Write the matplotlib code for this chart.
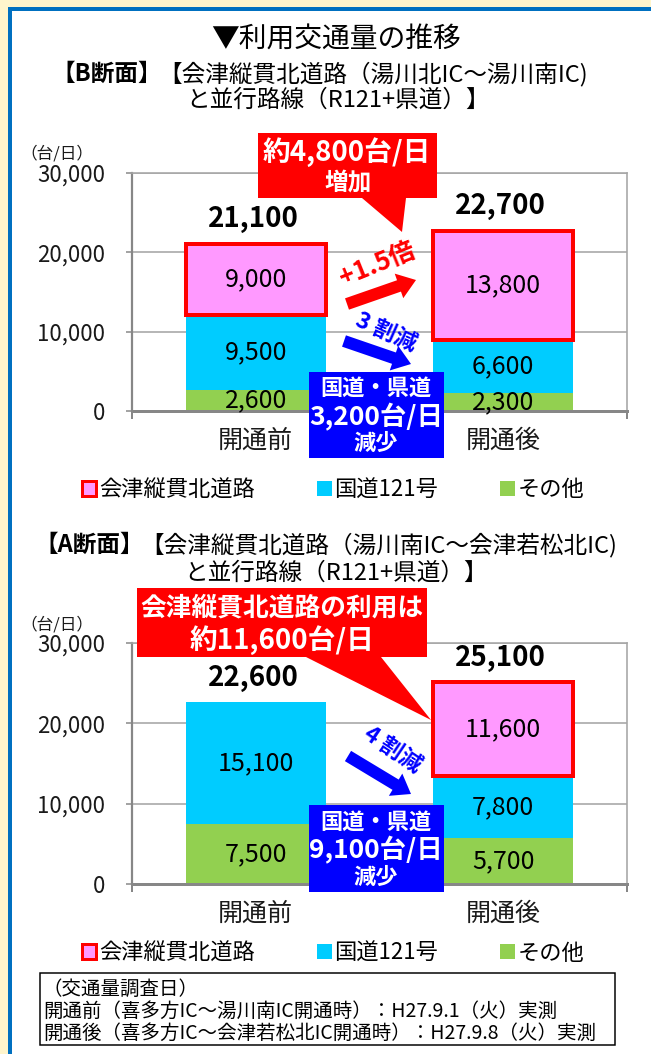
import matplotlib
matplotlib.use('Agg')
import matplotlib.pyplot as plt
from matplotlib.patches import Rectangle, Polygon, FancyArrow, Patch
from matplotlib.transforms import Affine2D
from matplotlib.ticker import FuncFormatter

plt.rcParams['font.family'] = ['Noto Sans CJK JP', 'DejaVu Sans']

# ---------------- data ----------------
categories = ['開通前', '開通後']
series_names = ['その他', '国道121号', '会津縦貫北道路']   # bottom -> top
b_other = [2600, 2300]
b_route121 = [9500, 6600]
b_bypass = [9000, 13800]
a_other = [7500, 5700]
a_route121 = [15100, 7800]
a_bypass = [0, 11600]
y_ticks = [0, 10000, 20000, 30000]

# ---------------- style ----------------
W, H, DPI = 651, 1054, 100
GREEN, CYAN, PINK, RED, BLUE = '#92D050', '#00CCFF', '#FF99FF', '#FF0000', '#0000FF'
GRID, AXC, TXT = '#A6A6A6', '#878787', '#1a1a1a'
PT = 72 / DPI  # points per pixel

fig = plt.figure(figsize=(W / DPI, H / DPI), dpi=DPI)
fig.patch.set_facecolor('#FFF5CC')
T = Affine2D().scale(1, -1).translate(0, H)  # pixel coords, origin top-left

fig.add_artist(Rectangle((9.5, 8.5), 800, 1200, transform=T, facecolor='white',
                         edgecolor='#0070C0', linewidth=4 * PT, zorder=-5))


def ftext(x, y, s, **kw):
    kw.setdefault('ha', 'center')
    kw.setdefault('va', 'center')
    kw.setdefault('zorder', 6)
    return fig.text(x, y, s, transform=T, **kw)


def add_axes_px(left, top, right, bottom):
    return fig.add_axes([left / W, 1 - bottom / H, (right - left) / W, (bottom - top) / H])


def draw_chart(ax, other, route, bypass):
    x = list(range(len(categories)))
    bw = 0.566
    c1 = ax.bar(x, other, width=bw, color=GREEN, label=series_names[0], zorder=2)
    c2 = ax.bar(x, route, bottom=other, width=bw, color=CYAN, label=series_names[1], zorder=2)
    bot = [o + r for o, r in zip(other, route)]
    c3 = ax.bar(x, bypass, bottom=bot, width=bw, color=PINK,
                edgecolor=[RED if v else 'none' for v in bypass],
                linewidth=[4 * PT if v else 0 for v in bypass],
                label=series_names[2], zorder=3)
    for c, vals in ((c1, other), (c2, route), (c3, bypass)):
        ax.bar_label(c, labels=[f'{v:,}' if v else '' for v in vals], label_type='center',
                     fontsize=18, color='#000000', zorder=4)
    totals = [o + r + b for o, r, b in zip(other, route, bypass)]
    for i, t in enumerate(totals):
        ax.annotate(f'{t:,}', (i, t), xytext=(-2, 12), textcoords='offset points',
                    ha='center', va='baseline', fontsize=20, fontweight='bold',
                    color='#000000', annotation_clip=False)

    ax.set_xlim(-0.5, 1.5)
    ax.set_ylim(0, 30000)
    ax.set_yticks(y_ticks)
    ax.yaxis.set_major_formatter(FuncFormatter(lambda v, p: f'{int(v):,}'))
    ax.tick_params(axis='y', length=6 * PT, width=1.5 * PT, color=AXC, pad=15,
                   labelsize=16, labelcolor=TXT)
    ax.set_xticks(x)
    ax.set_xticklabels(categories)
    ax.tick_params(axis='x', which='major', length=0, pad=12, labelsize=18, labelcolor=TXT)
    ax.set_xticks([-0.5, 0.5, 1.5], minor=True)
    ax.tick_params(axis='x', which='minor', length=8 * PT, width=2 * PT, color=AXC)
    ax.grid(axis='y', color=GRID, linewidth=1.6 * PT)
    ax.set_axisbelow(True)
    for s in ('top', 'right'):
        ax.spines[s].set_color(GRID)
        ax.spines[s].set_linewidth(1.6 * PT)
    ax.spines['left'].set_color(AXC)
    ax.spines['left'].set_linewidth(2.2 * PT)
    ax.spines['bottom'].set_color(AXC)
    ax.spines['bottom'].set_linewidth(3 * PT)
    ax.set_facecolor('none')


def legend_at(ycenter):
    handles = [Patch(facecolor=PINK, edgecolor=RED, linewidth=3 * PT),
               Patch(facecolor=CYAN, edgecolor='none'),
               Patch(facecolor=GREEN, edgecolor='none')]
    fig.legend(handles, series_names[::-1], loc='center', bbox_to_anchor=(333 / W, 1 - ycenter / H),
               ncol=3, frameon=False, fontsize=16, handlelength=0.66, handleheight=0.66,
               handletextpad=0.12, columnspacing=2.8, borderpad=0, borderaxespad=0)


def callout(points, color):
    fig.add_artist(Polygon(points, closed=True, transform=T, facecolor=color,
                           edgecolor='none', zorder=5))


def block_arrow(x0, y0, x1, y1, color):
    fig.add_artist(FancyArrow(x0, y0, x1 - x0, y1 - y0, width=12, head_width=26,
                              head_length=18, length_includes_head=True, transform=T,
                              facecolor=color, edgecolor='none', zorder=5))


# ---------------- titles ----------------
ftext(336, 40, '▼利用交通量の推移', fontsize=20, color='#000000')

ftext(162, 74, '【B断面】', ha='right', fontsize=17, fontweight='bold', color='#000000')
ftext(158, 74, '【会津縦貫北道路（湯川北IC～湯川南IC)', ha='left', fontsize=17, color='#000000')
ftext(338, 100, 'と並行路線（R121+県道）】', fontsize=17, color='#000000')

# ---------------- chart B ----------------
axB = add_axes_px(132, 173, 627, 411)
draw_chart(axB, b_other, b_route121, b_bypass)
ftext(20, 154, '（台/日）', ha='left', fontsize=12, color=TXT)

callout([(258, 133), (437, 133), (437, 198), (406, 198), (402, 232), (362, 198), (258, 198)], RED)
ftext(347, 152, '約4,800台/日', fontsize=20, fontweight='bold', color='white')
ftext(348, 183, '増加', fontsize=17, fontweight='bold', color='white')

ftext(377, 264, '+1.5倍', fontsize=18.5, fontweight='bold', color=RED, rotation=22)
block_arrow(347, 304, 416, 280, RED)
ftext(386, 332, '3 割減', fontsize=16.5, fontweight='bold', color=BLUE, rotation=-24)
block_arrow(344, 341, 411, 364, BLUE)

fig.add_artist(Rectangle((309, 372), 135, 86, transform=T, facecolor=BLUE,
                         edgecolor='none', zorder=5))
ftext(376, 388, '国道・県道', fontsize=16, fontweight='bold', color='white')
ftext(376, 417, '3,200台/日', fontsize=19, fontweight='bold', color='white')
ftext(376, 443, '減少', fontsize=16, fontweight='bold', color='white')

legend_at(490)

# ---------------- chart A ----------------
ftext(144, 545, '【A断面】', ha='right', fontsize=17, fontweight='bold', color='#000000')
ftext(140, 545, '【会津縦貫北道路（湯川南IC～会津若松北IC)', ha='left', fontsize=17, color='#000000')
ftext(336, 573, 'と並行路線（R121+県道）】', fontsize=17, color='#000000')

axA = add_axes_px(132, 643, 627, 884)
draw_chart(axA, a_other, a_route121, a_bypass)
ftext(20, 625, '（台/日）', ha='left', fontsize=12, color=TXT)

callout([(137, 588), (427, 588), (427, 657), (381, 657), (431, 720), (306, 657), (137, 657)], RED)
ftext(282, 608, '会津縦貫北道路の利用は', fontsize=18.5, fontweight='bold', color='white')
ftext(282, 640, '約11,600台/日', fontsize=20, fontweight='bold', color='white')

ftext(393, 750, '4 割減', fontsize=16.5, fontweight='bold', color=BLUE, rotation=-34)
block_arrow(348, 756, 411, 794, BLUE)

fig.add_artist(Rectangle((309, 805), 135, 87, transform=T, facecolor=BLUE,
                         edgecolor='none', zorder=5))
ftext(376, 822, '国道・県道', fontsize=16, fontweight='bold', color='white')
ftext(376, 850, '9,100台/日', fontsize=19, fontweight='bold', color='white')
ftext(376, 877, '減少', fontsize=16, fontweight='bold', color='white')

legend_at(953)

# ---------------- notes ----------------
fig.add_artist(Rectangle((40, 973), 575, 72, transform=T, facecolor='white',
                         edgecolor='#000000', linewidth=1.5 * PT, zorder=5))
notes = ['（交通量調査日）',
         '開通前（喜多方IC～湯川南IC開通時）：H27.9.1（火）実測',
         '開通後（喜多方IC～会津若松北IC開通時）：H27.9.8（火）実測']
for yy, line in zip((989, 1011, 1033), notes):
    ftext(43, yy, line, ha='left', fontsize=14, color='#000000')

fig.savefig('out.png', dpi=DPI, facecolor=fig.get_facecolor())
